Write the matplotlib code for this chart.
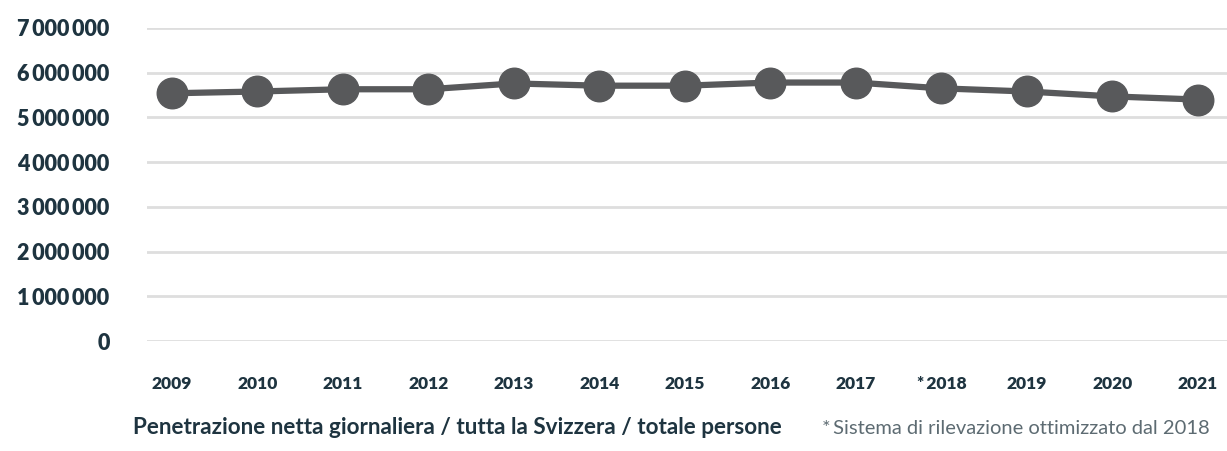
import matplotlib.pyplot as plt
from matplotlib.ticker import FuncFormatter

years = ["2009", "2010", "2011", "2012", "2013", "2014", "2015",
         "2016", "2017", "*\u20092018", "2019", "2020", "2021"]
persons = [5540000, 5580000, 5630000, 5630000, 5760000, 5710000, 5710000,
           5780000, 5780000, 5650000, 5580000, 5470000, 5400000]
y_ticks = [0, 1000000, 2000000, 3000000, 4000000, 5000000, 6000000, 7000000]

title = "Penetrazione netta giornaliera / tutta la Svizzera / totale persone"
note = "*\u2009Sistema di rilevazione ottimizzato dal 2018"

text_col = "#1e3440"
line_col = "#58595b"

plt.rcParams['font.family'] = ['Lato', 'DejaVu Sans']

fig = plt.figure(figsize=(12.27, 4.51), dpi=100)
ax = fig.add_axes([147 / 1227, 1 - 341 / 451, 1 - 147 / 1227, 313 / 451])

x = list(range(len(years)))
ax.plot(x, persons, color=line_col, lw=4.5, marker="o", ms=22,
        mfc=line_col, mec=line_col, clip_on=False, zorder=3)

ax.set_ylim(0, 7000000)
ax.set_xlim(-0.29, 12.34)
ax.set_yticks(y_ticks)
ax.yaxis.set_major_formatter(FuncFormatter(lambda v, p: f"{int(v):,}".replace(",", "\u2009")))
ax.set_xticks(x)
ax.set_xticklabels(years)

ax.grid(axis="y", color="#dedede", lw=2)
ax.set_axisbelow(True)
for s in ax.spines.values():
    s.set_visible(False)
ax.tick_params(axis="both", length=0)
ax.tick_params(axis="y", pad=27, labelsize=15.5, labelcolor=text_col)
ax.tick_params(axis="x", pad=25, labelsize=12.5, labelcolor=text_col)
for lbl in ax.get_yticklabels() + ax.get_xticklabels():
    lbl.set_fontweight("heavy")

fig.text(133 / 1227, 1 - 428 / 451, title, fontsize=16.2, fontweight="bold",
         color=text_col, va="center", ha="left")
fig.text(822 / 1227, 1 - 428 / 451, note, fontsize=14.5, color="#5d6b72",
         va="center", ha="left")

fig.savefig("out.png", dpi=100)
